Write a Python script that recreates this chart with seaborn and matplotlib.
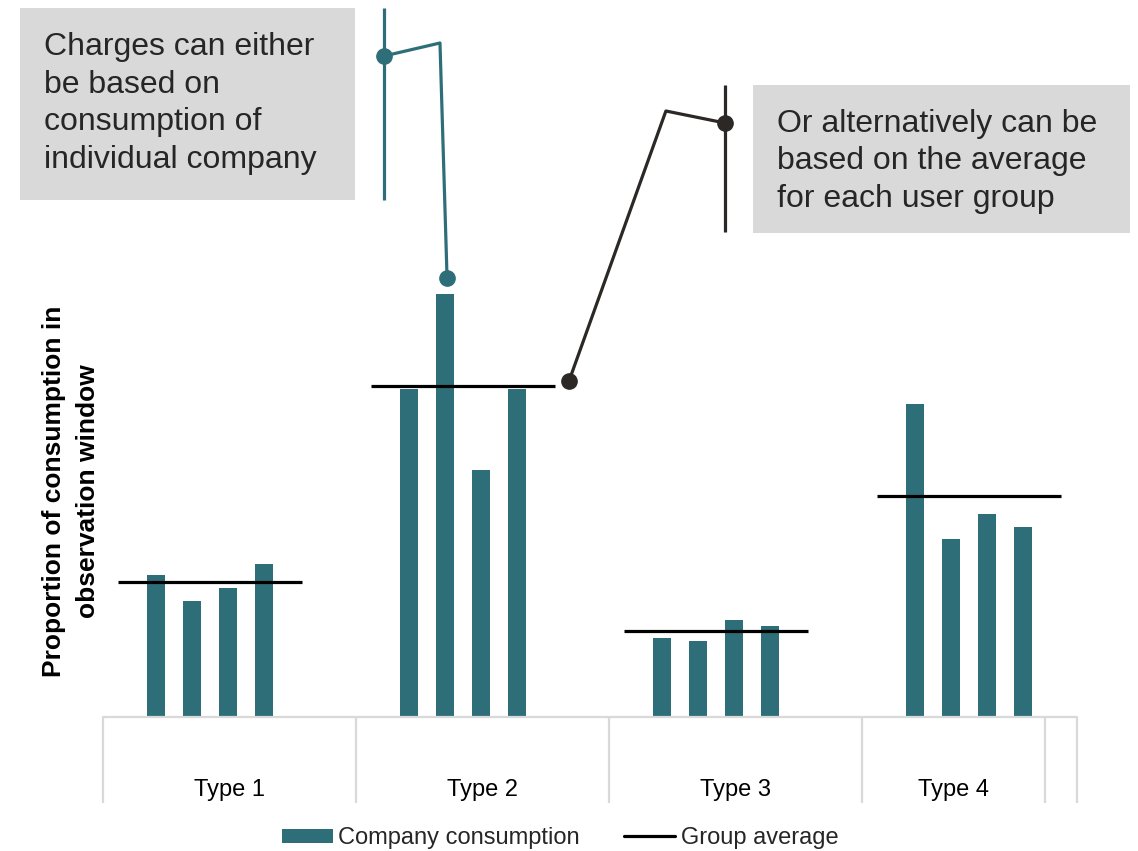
import matplotlib
matplotlib.use("Agg")
import matplotlib.pyplot as plt
from matplotlib.patches import Rectangle, Patch
from matplotlib.lines import Line2D
import pandas as pd
import seaborn as sns

# ---- data -------------------------------------------------------------
groups = ["Type 1", "Type 2", "Type 3", "Type 4"]
companies = ["A", "B", "C", "D"]
type_1 = [14.2, 11.6, 12.9, 15.3]
type_2 = [32.8, 42.3, 24.7, 32.8]
type_3 = [7.9, 7.6, 9.7, 9.1]
type_4 = [31.3, 17.8, 20.3, 19.0]
group_average = [13.5, 33.1, 8.6, 22.1]

# category boundaries on the x axis (last block is narrower, plus an empty tail)
boundaries = [-0.423, 0.577, 1.577, 2.577, 3.300, 3.427]

TEAL = "#2E6E78"
DARK = "#2B2826"
GRID = "#D9D9D9"
BOX = "#D9D9D9"
TXT = "#262626"

rows = []
for g, vals in zip(groups, [type_1, type_2, type_3, type_4]):
    for c, v in zip(companies, vals):
        rows.append({"group": g, "company": c, "value": v})
df = pd.DataFrame(rows)

sns.set_style("white")
plt.rcParams["font.family"] = ["Liberation Sans", "DejaVu Sans"]

W, H = 1138, 851
fig = plt.figure(figsize=(W / 100, H / 100), dpi=100)
ax = fig.add_axes([103 / W, 134 / H, 974 / W, 717 / H])

sns.barplot(data=df, x="group", y="value", hue="company", order=groups,
            hue_order=companies, palette={c: TEAL for c in companies},
            saturation=1, width=0.569, gap=0.5, errorbar=None, legend=False,
            linewidth=0, ax=ax)

for i, avg in enumerate(group_average):
    ax.hlines(avg, i - 0.362, i + 0.362, color="black", lw=2.3, zorder=4)

ax.set_xlim(boundaries[0], boundaries[-1])
ax.set_ylim(0, 71.7)
for s in ax.spines.values():
    s.set_visible(False)
ax.set_xticks([])
ax.set_yticks([])
ax.set_xlabel("")
ax.set_ylabel("")

# category axis: baseline, separators and labels
xt = ax.get_xaxis_transform()
ax.plot([boundaries[0], boundaries[-1]], [0, 0], transform=xt, color=GRID,
        lw=1.6, clip_on=False, zorder=1)
ax.vlines(boundaries, -0.12, 0, transform=xt, color=GRID, lw=1.6, clip_on=False)
for g, a, b in zip(groups, boundaries[:-1], boundaries[1:]):
    ax.text((a + b) / 2, -73 / 717, g, transform=xt, ha="center", va="center",
            fontsize=17, color="black")

# y axis title
fig.text(71 / W, 1 - 491 / H, "Proportion of consumption in\nobservation window",
         rotation=90, ha="center", va="center", fontsize=19, fontweight="bold",
         multialignment="center", linespacing=1.53, color="black")

# explanatory boxes
fig.add_artist(Rectangle((20 / W, 1 - 200 / H), 335 / W, 192 / H,
                         transform=fig.transFigure, facecolor=BOX, edgecolor="none"))
fig.add_artist(Rectangle((753 / W, 1 - 233 / H), 377 / W, 148 / H,
                         transform=fig.transFigure, facecolor=BOX, edgecolor="none"))
fig.text(44 / W, 1 - 168 / H,
         "Charges can either\nbe based on\nconsumption of\nindividual company",
         fontsize=23, color=TXT, va="baseline", ha="left", linespacing=1.33)
fig.text(777 / W, 1 - 207 / H,
         "Or alternatively can be\nbased on the average\nfor each user group",
         fontsize=23, color=TXT, va="baseline", ha="left", linespacing=1.33)

# callout to an individual company's bar
bar_x = 1 - 0.071
bar_top = type_2[1]
ax.plot([0.688, 0.688], [51.7, 70.9], color=TEAL, lw=2.3, clip_on=False,
        solid_capstyle="butt")
ax.plot([0.688, 0.909, bar_x + 0.008], [66.1, 67.4, bar_top + 1.6], color=TEAL,
        lw=2.3, clip_on=False)
ax.plot([0.688, bar_x + 0.008], [66.1, bar_top + 1.6], ls="none", marker="o",
        ms=11, color=TEAL, clip_on=False)

# callout to a group average
avg_end = 1 + 0.362
ax.plot([2.036, 2.036], [48.5, 63.2], color=DARK, lw=2.3, clip_on=False,
        solid_capstyle="butt")
ax.plot([avg_end + 0.057, 1.802, 2.036], [group_average[1] + 0.5, 60.6, 59.4],
        color=DARK, lw=2.3, clip_on=False)
ax.plot([avg_end + 0.057, 2.036], [group_average[1] + 0.5, 59.4], ls="none",
        marker="o", ms=11, color=DARK, clip_on=False)

# legend
handles = [Patch(facecolor=TEAL, edgecolor="none"),
           Line2D([], [], color="black", lw=2.3)]
fig.legend(handles, ["Company consumption", "Group average"], loc="center",
           bbox_to_anchor=(560 / W, 1 - 838 / H), ncol=2, frameon=False,
           fontsize=17, handlelength=2.16, handleheight=0.55,
           handletextpad=0.25, columnspacing=1.86, borderpad=0, borderaxespad=0)

fig.savefig("out.png", dpi=100)
